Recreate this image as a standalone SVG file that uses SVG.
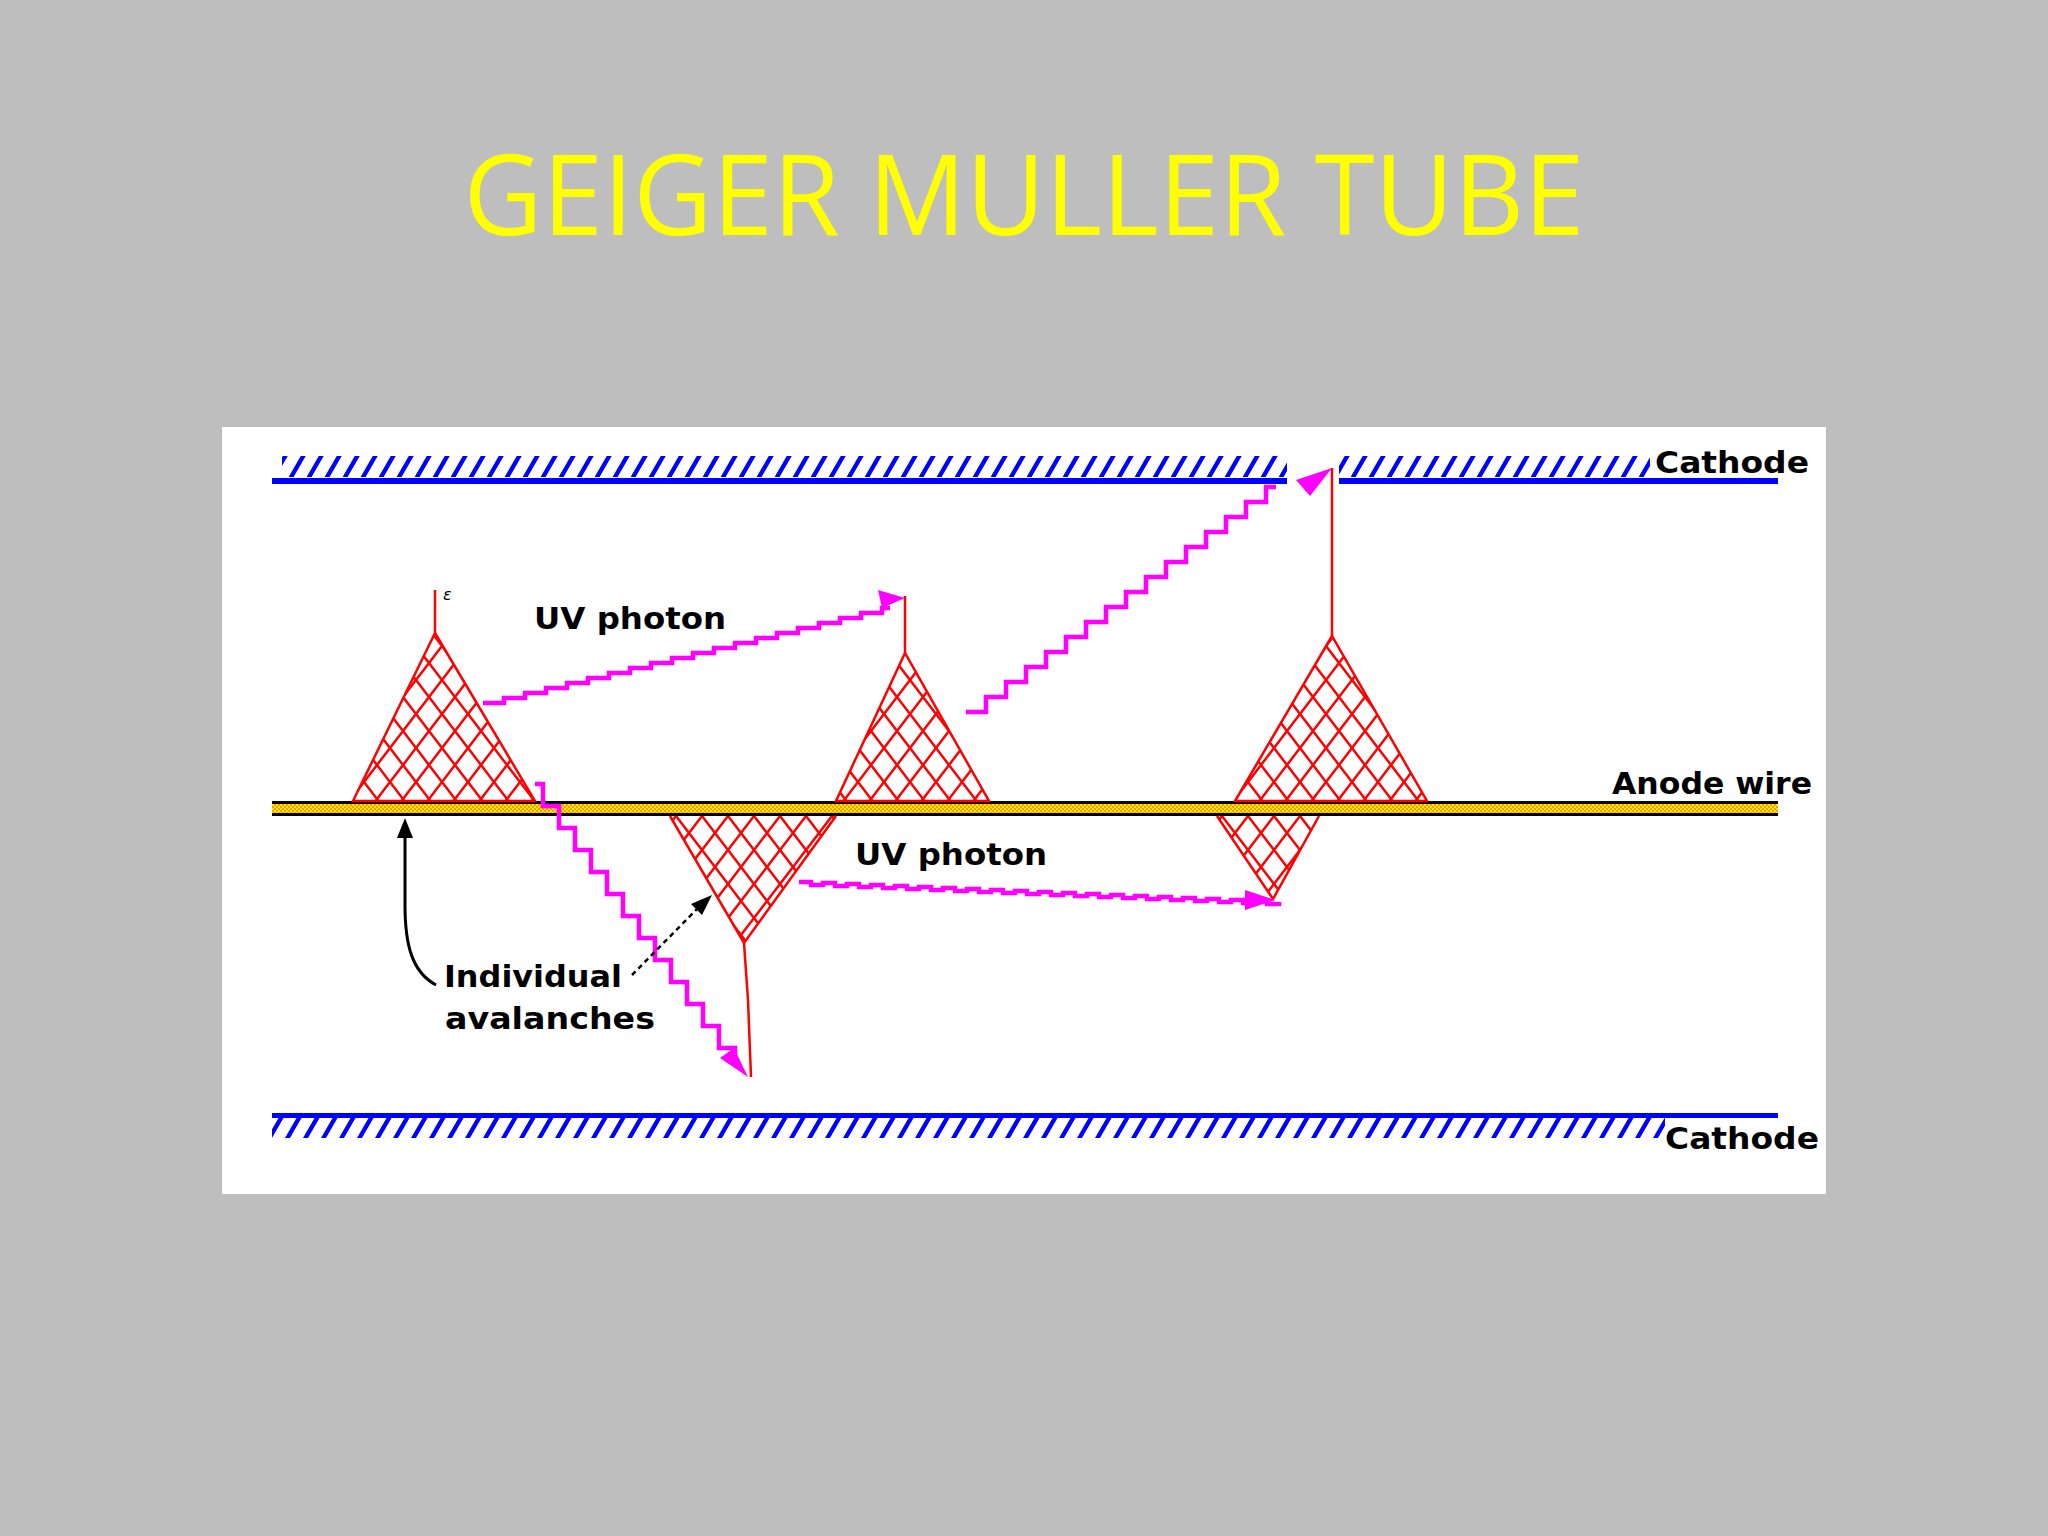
<svg xmlns="http://www.w3.org/2000/svg" width="2048" height="1536" viewBox="0 0 2048 1536">
<style>
.lbl{font-family:"DejaVu Sans",sans-serif;font-weight:bold;font-size:31px;fill:#000}
.mesh{stroke:#ff0000;stroke-width:2.5;fill:none}
.red{stroke:#ff0000;stroke-width:2.5;fill:none}
.ph{stroke:#ff00ff;stroke-width:4.5;fill:none;stroke-linejoin:miter}
.phh{fill:#ff00ff}
.blue{fill:#0000ff}
</style>
<defs>
<pattern id="hatch" patternUnits="userSpaceOnUse" width="18" height="200" patternTransform="skewX(-30)">
<rect x="6" y="0" width="5" height="200" fill="#0000ff"/>
</pattern>
<pattern id="check" patternUnits="userSpaceOnUse" width="4" height="4">
<rect width="4" height="4" fill="#ff9900"/>
<rect width="2" height="2" fill="#ffee00"/>
<rect x="2" y="2" width="2" height="2" fill="#ffee00"/>
</pattern>
<pattern id="lat" patternUnits="userSpaceOnUse" width="26" height="34">
<path d="M0,0 L13,17 L0,34 M26,0 L13,17 L26,34" stroke="#ff0000" stroke-width="2.5" fill="none"/>
</pattern>
<clipPath id="cA1"><polygon points="435,633 353,801 535,801"/></clipPath>
<clipPath id="cA2"><polygon points="905,653 836,801 989,801"/></clipPath>
<clipPath id="cA3"><polygon points="1332,636 1235,801 1427,801"/></clipPath>
<clipPath id="cB1"><polygon points="670,816 836,816 744,943"/></clipPath>
<clipPath id="cB2"><polygon points="1217,816 1319,816 1273,899"/></clipPath>
</defs>
<rect width="2048" height="1536" fill="#bfbebf"/>
<text x="1024" y="235" text-anchor="middle" font-family="Open Sans, Liberation Sans, sans-serif" font-size="112" fill="#ffff00" textLength="1121" lengthAdjust="spacingAndGlyphs">GEIGER MULLER TUBE</text>
<rect x="222" y="427" width="1604" height="767" fill="#ffffff"/>

<g id="cathode-top">
<rect x="282" y="456" width="1005" height="21" fill="url(#hatch)"/>
<rect x="1339" y="456" width="311" height="21" fill="url(#hatch)"/>
<rect x="272" y="478" width="1015" height="6" class="blue"/>
<rect x="1339" y="478" width="439" height="6" class="blue"/>
<text class="lbl" x="1655" y="473" textLength="154" lengthAdjust="spacingAndGlyphs">Cathode</text>
</g>
<g id="cathode-bottom">
<rect x="272" y="1113" width="1506" height="5" class="blue"/>
<rect x="272" y="1118" width="1393" height="20" fill="url(#hatch)"/>
<text class="lbl" x="1665" y="1149" textLength="154" lengthAdjust="spacingAndGlyphs">Cathode</text>
</g>
<g id="anode">
<rect x="272" y="803" width="1506" height="11" fill="url(#check)"/>
<rect x="272" y="801" width="1506" height="3" fill="#000"/>
<rect x="272" y="813" width="1506" height="3" fill="#000"/>
<text class="lbl" x="1612" y="794" textLength="200" lengthAdjust="spacingAndGlyphs">Anode wire</text>
</g>

<g id="avalanche-1">
<rect x="350" y="630" width="190" height="172" fill="url(#lat)" clip-path="url(#cA1)"/>
<polygon class="mesh" points="435,633 353,801 535,801"/>
<line class="red" x1="435" y1="633" x2="435" y2="590"/>
<text x="443" y="600" font-family="DejaVu Sans, sans-serif" font-size="16" font-style="italic">ε</text>
</g>
<g id="avalanche-2">
<rect x="830" y="650" width="165" height="152" fill="url(#lat)" clip-path="url(#cA2)"/>
<polygon class="mesh" points="905,653 836,801 989,801"/>
<line class="red" x1="905" y1="653" x2="905" y2="596"/>
</g>
<g id="avalanche-3">
<rect x="1230" y="630" width="200" height="172" fill="url(#lat)" clip-path="url(#cA3)"/>
<polygon class="mesh" points="1332,636 1235,801 1427,801"/>
<line class="red" x1="1332" y1="636" x2="1332" y2="468"/>
</g>
<g id="avalanche-4">
<rect x="665" y="814" width="175" height="132" fill="url(#lat)" clip-path="url(#cB1)"/>
<polyline class="mesh" points="670,816 744,943 836,816"/>
<polyline class="red" points="744,943 748,1000 751,1077"/>
</g>
<g id="avalanche-5">
<rect x="1212" y="814" width="110" height="88" fill="url(#lat)" clip-path="url(#cB2)"/>
<polyline class="mesh" points="1217,816 1273,899 1319,816"/>
</g>

<g id="connectors">
<path class="ph" d="M483,703 h21 v-5 h21 v-5 h21 v-5 h21 v-5 h21 v-5 h21 v-5 h21 v-5 h21 v-5 h21 v-5 h21 v-5 h21 v-5 h21 v-5 h21 v-5 h21 v-5 h21 v-5 h21 v-5 h21 v-5 h21 v-5 h21 v-5 h8"/>
<polygon class="phh" points="905,598 878,590 882,608"/>
<path class="ph" d="M966,712 h20 v-15 h20 v-15 h20 v-15 h20 v-15 h20 v-15 h20 v-15 h20 v-15 h20 v-15 h20 v-15 h20 v-15 h20 v-15 h20 v-15 h20 v-15 h20 v-15 h20 v-15 h10"/>
<polygon class="phh" points="1332,468 1296,480 1310,496"/>
<path class="ph" d="M535,784 h8 v22 h16 v22 h16 v22 h16 v22 h16 v22 h16 v22 h16 v22 h16 v22 h16 v22 h16 v22 h16 v22 h16 v22 h16 v18"/>
<polygon class="phh" points="748,1077 720,1058 734,1048"/>
<path class="ph" d="M799,882 h12 v3 h12 v-2 h12 v3 h12 v-2 h12 v3 h12 v-2 h12 v3 h12 v-2 h12 v3 h12 v-2 h12 v3 h12 v-2 h12 v3 h12 v-2 h12 v3 h12 v-2 h12 v3 h12 v-2 h12 v3 h12 v-2 h12 v3 h12 v-2 h12 v3 h12 v-2 h12 v3 h12 v-2 h12 v3 h12 v-2 h12 v3 h12 v-2 h12 v3 h12 v-2 h12 v3 h12 v-2 h12 v3 h12 v-2 h12 v3 h12 v-2 h12 v3 h12 v-2"/>
<polygon class="phh" points="1275,900 1245,890 1245,910"/>
<path d="M436,985 C412,972 405,945 405,905 L405,832" stroke="#000" stroke-width="3" fill="none"/>
<polygon points="405,818 397,838 413,838" fill="#000"/>
<path d="M632,975 L700,906" stroke="#000" stroke-width="2.5" stroke-dasharray="5,4" fill="none"/>
<polygon points="712,895 691,904 702,915" fill="#000"/>
</g>

<g id="labels">
<text class="lbl" x="534" y="629" textLength="192" lengthAdjust="spacingAndGlyphs">UV photon</text>
<text class="lbl" x="855" y="865" textLength="192" lengthAdjust="spacingAndGlyphs">UV photon</text>
<text class="lbl" x="444" y="987" textLength="178" lengthAdjust="spacingAndGlyphs">Individual</text>
<text class="lbl" x="445" y="1029" textLength="210" lengthAdjust="spacingAndGlyphs">avalanches</text>
</g>
</svg>
